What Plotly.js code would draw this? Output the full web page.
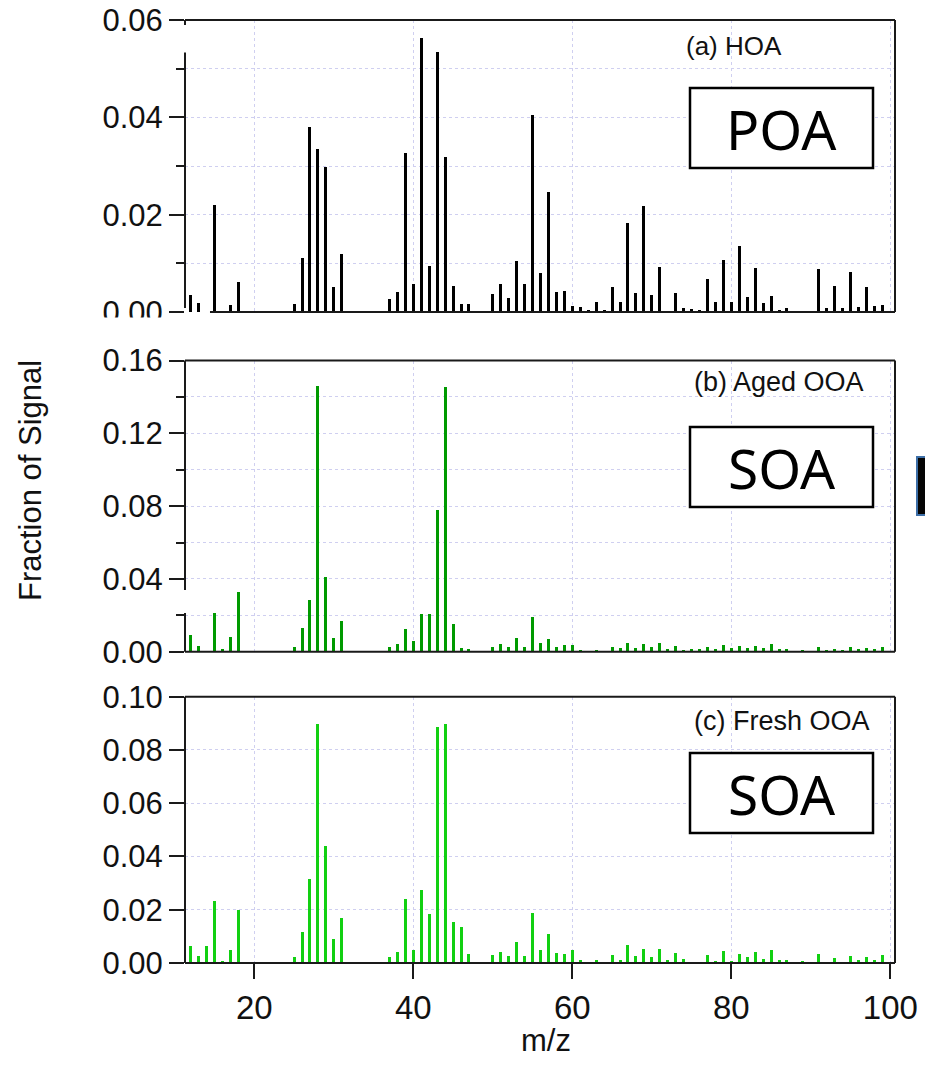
<!DOCTYPE html>
<html>
<head>
<meta charset="utf-8">
<script src="https://cdn.plot.ly/plotly-3.0.1.min.js"></script>
<style>
  html, body { margin: 0; padding: 0; background: #ffffff; }
  #chart { width: 925px; height: 1066px; }
</style>
</head>
<body>
<div id="chart"></div>
<script>
// m/z values of the unit-mass spectra
const mz = [12, 13, 14, 15, 16, 17, 18, 19, 20, 21, 22, 23, 24, 25, 26, 27, 28, 29, 30, 31,
            32, 33, 34, 35, 36, 37, 38, 39, 40, 41, 42, 43, 44, 45, 46, 47, 48, 49, 50, 51,
            52, 53, 54, 55, 56, 57, 58, 59, 60, 61, 62, 63, 64, 65, 66, 67, 68, 69, 70, 71,
            72, 73, 74, 75, 76, 77, 78, 79, 80, 81, 82, 83, 84, 85, 86, 87, 88, 89, 90, 91,
            92, 93, 94, 95, 96, 97, 98, 99];

// (a) HOA factor profile
const hoa = [
  0.0035, 0.0018, 0, 0.022, 0, 0.0014, 0.0061,
  0, 0, 0, 0, 0, 0,
  0.0016, 0.0112, 0.0381, 0.0334, 0.0297, 0.0052, 0.0119,
  0, 0, 0, 0, 0,
  0.0026, 0.0042, 0.0327, 0.0057, 0.0564, 0.0095, 0.0535, 0.0318, 0.0054, 0.0016, 0.0016,
  0, 0.0003,
  0.0037, 0.0058, 0.0028, 0.0105, 0.0058, 0.0404, 0.008, 0.0247, 0.0042, 0.0043,
  0.0012, 0.0011, 0.0004, 0.002, 0.0004, 0.0051, 0.002, 0.0183, 0.004, 0.0217,
  0.0036, 0.0093, 0.0003, 0.0039, 0.0008, 0.0006, 0.0004, 0.0068, 0.0021, 0.0106,
  0.002, 0.0135, 0.003, 0.009, 0.0018, 0.0034, 0.0004, 0.0009, 0.0002, 0.0002,
  0, 0.0088, 0.0008, 0.0054, 0.0008, 0.0082, 0.0011, 0.0051, 0.0012, 0.0014
];

// (b) Aged OOA factor profile
const agedOOA = [
  0.0092, 0.0031, 0, 0.0214, 0.0013, 0.0082, 0.0329,
  0, 0, 0, 0, 0, 0,
  0.0027, 0.0132, 0.0282, 0.146, 0.0408, 0.0073, 0.0169,
  0, 0, 0, 0, 0,
  0.0027, 0.0042, 0.0125, 0.0059, 0.0205, 0.0208, 0.0778, 0.1455, 0.015, 0.0022, 0.0013,
  0, 0.0005,
  0.0027, 0.004, 0.0027, 0.0073, 0.0027, 0.0189, 0.0046, 0.0068, 0.0027, 0.0037,
  0.0037, 0.0009, 0.0004, 0.0009, 0.0005, 0.0027, 0.0018, 0.0046, 0.0022, 0.0042,
  0.0024, 0.0046, 0.0013, 0.0031, 0.0009, 0.0013, 0.0013, 0.0027, 0.0013, 0.0037,
  0.0018, 0.0031, 0.0018, 0.0031, 0.0018, 0.0042, 0.0013, 0.0013, 0.0005, 0.0009,
  0.0005, 0.0024, 0.0009, 0.0013, 0.0009, 0.0027, 0.0013, 0.0018, 0.0013, 0.0024
];

// (c) Fresh OOA factor profile
const freshOOA = [
  0.0065, 0.0028, 0.0065, 0.0231, 0.0009, 0.005, 0.02,
  0, 0, 0, 0, 0, 0,
  0.0022, 0.0118, 0.0315, 0.0898, 0.0441, 0.009, 0.0168,
  0, 0, 0, 0, 0,
  0.0022, 0.004, 0.0239, 0.005, 0.0275, 0.0185, 0.0885, 0.0896, 0.0155, 0.0134, 0.0034,
  0, 0.0002,
  0.0029, 0.0041, 0.0027, 0.0078, 0.0027, 0.0188, 0.0047, 0.011, 0.0038, 0.0033,
  0.0048, 0.001, 0.0004, 0.001, 0, 0.0029, 0.001, 0.0066, 0.0025, 0.0054,
  0.0023, 0.0054, 0.001, 0.0038, 0.0016, 0.0004, 0.0004, 0.0031, 0.0008, 0.0045,
  0.0006, 0.0035, 0.0023, 0.004, 0.0016, 0.005, 0.0013, 0.001, 0.0004, 0.0006,
  0, 0.0035, 0.0004, 0.002, 0.0004, 0.0025, 0.0013, 0.0022, 0.0013, 0.003
];

const panelLabels = ['(a) HOA', '(b) Aged OOA', '(c) Fresh OOA'];
const sourceLabels = ['POA', 'SOA', 'SOA'];
const xTickVals = [20, 40, 60, 80, 100];

const AXIS_FONT = 'Liberation Sans, Arial, sans-serif';
const BOX_FONT = 'Noto Sans, Open Sans, sans-serif';
const INK = '#1a1a1a';
const GRID = '#cfcff0';

function bar(y, color, xa, ya) {
  return {
    type: 'bar', x: mz, y: y, xaxis: xa, yaxis: ya,
    width: 0.38, marker: { color: color, line: { width: 0 } },
    hoverinfo: 'x+y', showlegend: false
  };
}

const data = [
  bar(hoa, '#000000', 'x', 'y'),
  bar(agedOOA, '#009a00', 'x2', 'y2'),
  bar(freshOOA, '#12d012', 'x3', 'y3')
];

function xAxis(anchor, showLabels) {
  return {
    anchor: anchor, domain: [0, 1], range: [11.28, 100.59],
    tickmode: 'array', tickvals: xTickVals, ticktext: xTickVals.map(String),
    showticklabels: showLabels,
    ticks: showLabels ? 'outside' : '', ticklen: 15, tickwidth: 2, tickcolor: INK,
    tickfont: { family: AXIS_FONT, size: 33, color: '#111' },
    showgrid: true, gridcolor: GRID, griddash: 'dot', gridwidth: 1,
    zeroline: false, showline: false, fixedrange: true
  };
}

function yAxis(anchor, domain, range, dtick, minorDtick) {
  const ax = {
    anchor: anchor, domain: domain, range: range,
    tick0: 0, dtick: dtick, tickformat: '.2f',
    ticks: 'outside', ticklen: 15, tickwidth: 2, tickcolor: INK,
    tickfont: { family: AXIS_FONT, size: 31, color: '#111' },
    showgrid: true, gridcolor: GRID, griddash: 'dot', gridwidth: 1,
    zeroline: false, showline: false, fixedrange: true
  };
  if (minorDtick) {
    ax.minor = {
      dtick: minorDtick, ticks: 'outside', ticklen: 8, tickwidth: 2, tickcolor: INK,
      showgrid: true, gridcolor: GRID, griddash: 'dot', gridwidth: 1
    };
  }
  return ax;
}

// frame segment helper in an axis' domain coordinates
function seg(xa, ya, x0, y0, x1, y1) {
  return {
    type: 'line', xref: xa + ' domain', yref: ya + ' domain',
    x0: x0, y0: y0, x1: x1, y1: y1, layer: 'above',
    line: { color: INK, width: 2 }
  };
}

// pixel -> paper helpers (plot area: x 185..895, y 20..963)
const px = v => (v - 185) / 710;
const py = v => (963 - v) / 943;

const shapes = [
  // (a) frame with broken left and bottom axes
  seg('x', 'y', 0, 1, 1, 1),
  seg('x', 'y', 1, 0, 1, 1),
  seg('x', 'y', 0.0352, 0, 1, 0),
  seg('x', 'y', 0, 0.0137, 0, 0.8885),
  seg('x', 'y', 0, 0.983, 0, 1),
  // (b) frame with broken left axis
  seg('x2', 'y2', 0, 1, 1, 1),
  seg('x2', 'y2', 1, 0, 1, 1),
  seg('x2', 'y2', 0, 0, 1, 0),
  seg('x2', 'y2', 0, 0, 0, 0.133),
  seg('x2', 'y2', 0, 0.212, 0, 1),
  // (c) full frame
  seg('x3', 'y3', 0, 1, 1, 1),
  seg('x3', 'y3', 1, 0, 1, 1),
  seg('x3', 'y3', 0, 0, 1, 0),
  seg('x3', 'y3', 0, 0, 0, 1),
  // label boxes
  { type: 'rect', xref: 'paper', yref: 'paper', x0: px(690), x1: px(873), y0: py(168), y1: py(88),
    fillcolor: '#ffffff', line: { color: '#000', width: 2.5 }, layer: 'above' },
  { type: 'rect', xref: 'paper', yref: 'paper', x0: px(690), x1: px(873), y0: py(507), y1: py(427),
    fillcolor: '#ffffff', line: { color: '#000', width: 2.5 }, layer: 'above' },
  { type: 'rect', xref: 'paper', yref: 'paper', x0: px(690), x1: px(873), y0: py(833), y1: py(753),
    fillcolor: '#ffffff', line: { color: '#000', width: 2.5 }, layer: 'above' },
  // neighbouring slide element at the right edge
  { type: 'rect', xref: 'paper', yref: 'paper', x0: px(917), x1: px(932), y0: py(515), y1: py(457),
    fillcolor: '#050505', line: { color: '#3d6fa8', width: 2 }, layer: 'above' }
];

function note(text, x, y, size, family, extra) {
  return Object.assign({
    text: text, xref: 'paper', yref: 'paper', x: px(x), y: py(y),
    xanchor: 'center', yanchor: 'middle', showarrow: false,
    font: { family: family, size: size, color: '#111' }
  }, extra || {});
}

const annotations = [
  note(panelLabels[0], 734, 46, 26, AXIS_FONT),
  note(panelLabels[1], 779, 382, 27, AXIS_FONT),
  note(panelLabels[2], 782, 721, 27, AXIS_FONT),
  note(sourceLabels[0], 781.5, 128, 55, BOX_FONT, { font: { family: BOX_FONT, size: 55, color: '#000' } }),
  note(sourceLabels[1], 781.5, 467, 55, BOX_FONT, { font: { family: BOX_FONT, size: 55, color: '#000' } }),
  note(sourceLabels[2], 781.5, 793, 55, BOX_FONT, { font: { family: BOX_FONT, size: 55, color: '#000' } }),
  note('Fraction of Signal', 30, 481, 31, AXIS_FONT, { textangle: -90 }),
  note('m/z', 546, 1040, 31, AXIS_FONT),
  // panel (b) sits over the lower half of panel (a)'s 0.00 label
  note(' ', 130, 332, 10, AXIS_FONT, { width: 104, height: 28, bgcolor: '#ffffff', borderpad: 0 })
];

const layout = {
  width: 925, height: 1066,
  margin: { l: 185, r: 30, t: 20, b: 103 },
  paper_bgcolor: '#ffffff', plot_bgcolor: '#ffffff',
  bargap: 0,
  xaxis: xAxis('y', false),
  xaxis2: xAxis('y2', false),
  xaxis3: xAxis('y3', true),
  yaxis: yAxis('x', [0.6903, 1], [0, 0.06], 0.02, 0.01),
  yaxis2: yAxis('x2', [0.3301, 0.6389], [0, 0.16], 0.04, 0.02),
  yaxis3: yAxis('x3', [0, 0.2824], [0, 0.10], 0.02, null),
  shapes: shapes,
  annotations: annotations,
  showlegend: false
};

Plotly.newPlot('chart', data, layout, { displayModeBar: false, staticPlot: true });
</script>
</body>
</html>
